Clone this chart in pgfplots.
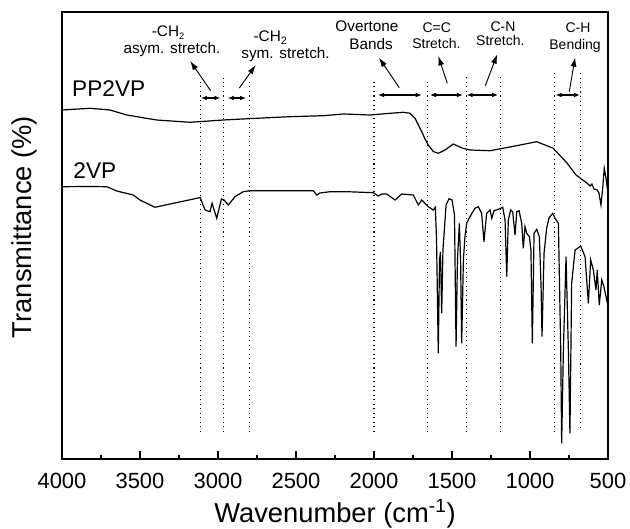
\documentclass[border=0pt]{standalone}
\usepackage{fontspec}
\setmainfont{Liberation Sans}
\usepackage{pgfplots}
\pgfplotsset{compat=1.18}
\usetikzlibrary{arrows.meta}

% dotted marker lines and arrow styles
\tikzset{
  band/.style={line width=0.8pt, dash pattern=on 0.8pt off 2.6pt},
  span/.style={line width=0.8pt, {Latex[length=4.5pt,width=3.5pt]}-{Latex[length=4.5pt,width=3.5pt]}},
  pointer/.style={line width=0.7pt, -{Latex[length=7pt,width=4.5pt]}},
  note/.style={font=\fontsize{11.5}{13}\selectfont, anchor=base, inner sep=0pt},
  notes/.style={font=\fontsize{10.5}{12}\selectfont, anchor=base, inner sep=0pt},
}

\begin{document}
\begin{tikzpicture}
\begin{axis}[
  scale only axis, width=409.5pt, height=335.25pt,
  x dir=reverse, xmin=500, xmax=4000, ymin=0, ymax=447,
  axis line style={line width=1pt},
  xtick={500,1000,...,4000}, minor x tick num=1,
  xtick pos=bottom, ytick=\empty,
  tick align=inside, major tick length=5.75pt, minor tick length=3.25pt,
  tick style={line width=1pt, black},
  /pgf/number format/1000 sep={},
  /pgf/number format/assume math mode=true,
  xticklabel style={font=\fontsize{16.5}{19}\selectfont, anchor=base, yshift=-21.75pt},
  xlabel={Wavenumber (cm\textsuperscript{-1})},
  xlabel style={font=\fontsize{20.5}{24}\selectfont, at={(axis description cs:0.5,-0.143)}, anchor=base},
  ylabel={Transmittance (\%)},
  ylabel style={font=\fontsize{20.5}{24}\selectfont, at={(axis description cs:-0.068,0.519)}, anchor=center},
  clip=false,
]
% PP2VP
\addplot[black, line width=0.9pt] coordinates {
  (4000,349) (3820,350.7) (3692,349) (3585,344) (3393,339) (3180,336.7)
  (2966,339) (2752,340.7) (2538,342.3) (2325,343.3) (2197,345) (2026,344)
  (1897,345.7) (1812,346.7) (1769,345.7) (1737,340.7) (1694,327.3) (1673,320)
  (1652,314) (1620,307.5) (1588,305.7) (1545,309) (1492,315) (1436,311)
  (1385,309) (1256,308.3) (1128,312) (957,317.3) (851,310.7) (763,296)
  (705,284) (636,276) (615,273) (603,275) (590,270) (570,269) (558,266)
  (545,254) (535,269) (524,290.7) (513,281) (503,269) };
% 2VP
\addplot[black, line width=0.9pt] coordinates {
  (4000,272.3) (3820,272.5) (3713,272.3) (3649,268) (3543,264) (3500,259)
  (3404,251.7) (3286,255.7) (3136,260.7) (3115,261.5) (3083,249) (3051,247.3)
  (3038,255.7) (3008,240.7) (2978,260) (2961,259) (2934,254) (2891,262.3)
  (2838,267.3) (2795,268.3) (2602,268.3) (2389,268.3) (2367,264) (2346,266)
  (2282,267.3) (2175,267.3) (2004,266.3) (1972,263) (1949,265) (1919,265)
  (1865,259) (1822,265) (1748,264) (1716,254) (1694,259) (1652,252.3)
  (1620,249) (1607,251.7) (1599,219) (1588,105.7) (1580,199) (1574,207)
  (1566,145.7) (1558,209) (1538,254) (1519,260.3) (1500,259) (1484,244)
  (1474,112.3) (1465,199) (1453,235.7) (1445,199) (1438,115.7) (1427,199)
  (1417,222.3) (1406,235.7) (1385,242.3) (1353,250.7) (1331,252.3) (1310,245.7)
  (1295,217.3) (1278,245.7) (1256,249) (1245,240.7) (1231,248.3) (1203,249.7)
  (1175,251.7) (1160,239) (1149,182.3) (1139,239) (1124,249) (1111,247.3)
  (1096,224) (1085,247.3) (1070,248.3) (1053,235.7) (1043,210.7) (1032,232.3)
  (1021,225.7) (1004,222.3) (994,209) (985,115.7) (974,225.7) (957,229.7)
  (940,222.3) (929,172.3) (923,122.3) (910,205.7) (899,222) (893,231)
  (878,241) (854,245.7) (840,240.7) (818,235.7) (803,109) (797,15.7)
  (786,109) (769,202.3) (754,109) (744,25.7) (733,175.7) (711,209)
  (675,213) (647,202.3) (626,155.7) (611,199) (594,189) (577,169)
  (569,189) (556,154) (540,179) (526,172.3) (508,159) (500,152.3) };

% band boundaries
\draw[band] (axis cs:3110,27) -- (axis cs:3110,379);
\draw[band] (axis cs:2965,27) -- (axis cs:2965,381);
\draw[band] (axis cs:2800,27) -- (axis cs:2800,379);
\draw[band] (axis cs:2000,27) -- (axis cs:2000,377);
\draw[band] (axis cs:1660,27) -- (axis cs:1660,377);
\draw[band] (axis cs:1405,27) -- (axis cs:1405,382);
\draw[band] (axis cs:1190,27) -- (axis cs:1190,382);
\draw[band] (axis cs:840,27) -- (axis cs:840,386);
\draw[band] (axis cs:675,31) -- (axis cs:675,389);

% spans
\draw[span] (axis cs:3109,361) -- (axis cs:2983,361);
\draw[span] (axis cs:2938,361) -- (axis cs:2820,361);
\draw[span] (axis cs:1974,364) -- (axis cs:1694,364);
\draw[span] (axis cs:1641,364) -- (axis cs:1430,364);
\draw[span] (axis cs:1406,364) -- (axis cs:1205,364);
\draw[span] (axis cs:835,364) -- (axis cs:680,364);

% pointers
\draw[pointer] (axis cs:3047,368.3) -- (axis cs:3179,398);
\draw[pointer] (axis cs:2863,371) -- (axis cs:2758,394);
\draw[pointer] (axis cs:1838,371.3) -- (axis cs:1968,401.3);
\draw[pointer] (axis cs:1530,375.7) -- (axis cs:1588,403);
\draw[pointer] (axis cs:1287,373) -- (axis cs:1210,404.7);
\draw[pointer] (axis cs:748,367.3) -- (axis cs:711,401.7);

% labels
\node[note] at (axis cs:3320,422.3) {-CH{\fontsize{7}{8}\selectfont\raisebox{-0.6ex}{2}}};
\node[note] at (axis cs:3295,405) {asym. stretch.};
\node[note] at (axis cs:2663,417) {-CH\textsubscript{2}};
\node[note] at (axis cs:2567,400.7) {sym. stretch.};
\node[note] at (axis cs:2045,427.3) {Overtone};
\node[note] at (axis cs:2019,409) {Bands};
\node[notes] at (axis cs:1598,426) {C=C};
\node[notes] at (axis cs:1600,410) {Stretch.};
\node[notes] at (axis cs:1173,427.3) {C-N};
\node[notes] at (axis cs:1190,413) {Stretch.};
\node[notes] at (axis cs:692,426) {C-H};
\node[notes] at (axis cs:711,409) {Bending};

\node[font=\fontsize{17}{20}\selectfont, anchor=base west, inner sep=0pt] at (axis cs:3936,362.3) {PP2VP};
\node[font=\fontsize{17}{20}\selectfont, anchor=base west, inner sep=0pt] at (axis cs:3928,280.7) {2VP};
\end{axis}
\pgfresetboundingbox
\path[use as bounding box] ([shift={(-46.5pt,-51.75pt)}]current axis.south west) rectangle ([shift={(16.5pt,9pt)}]current axis.north east);
\end{tikzpicture}
\end{document}
